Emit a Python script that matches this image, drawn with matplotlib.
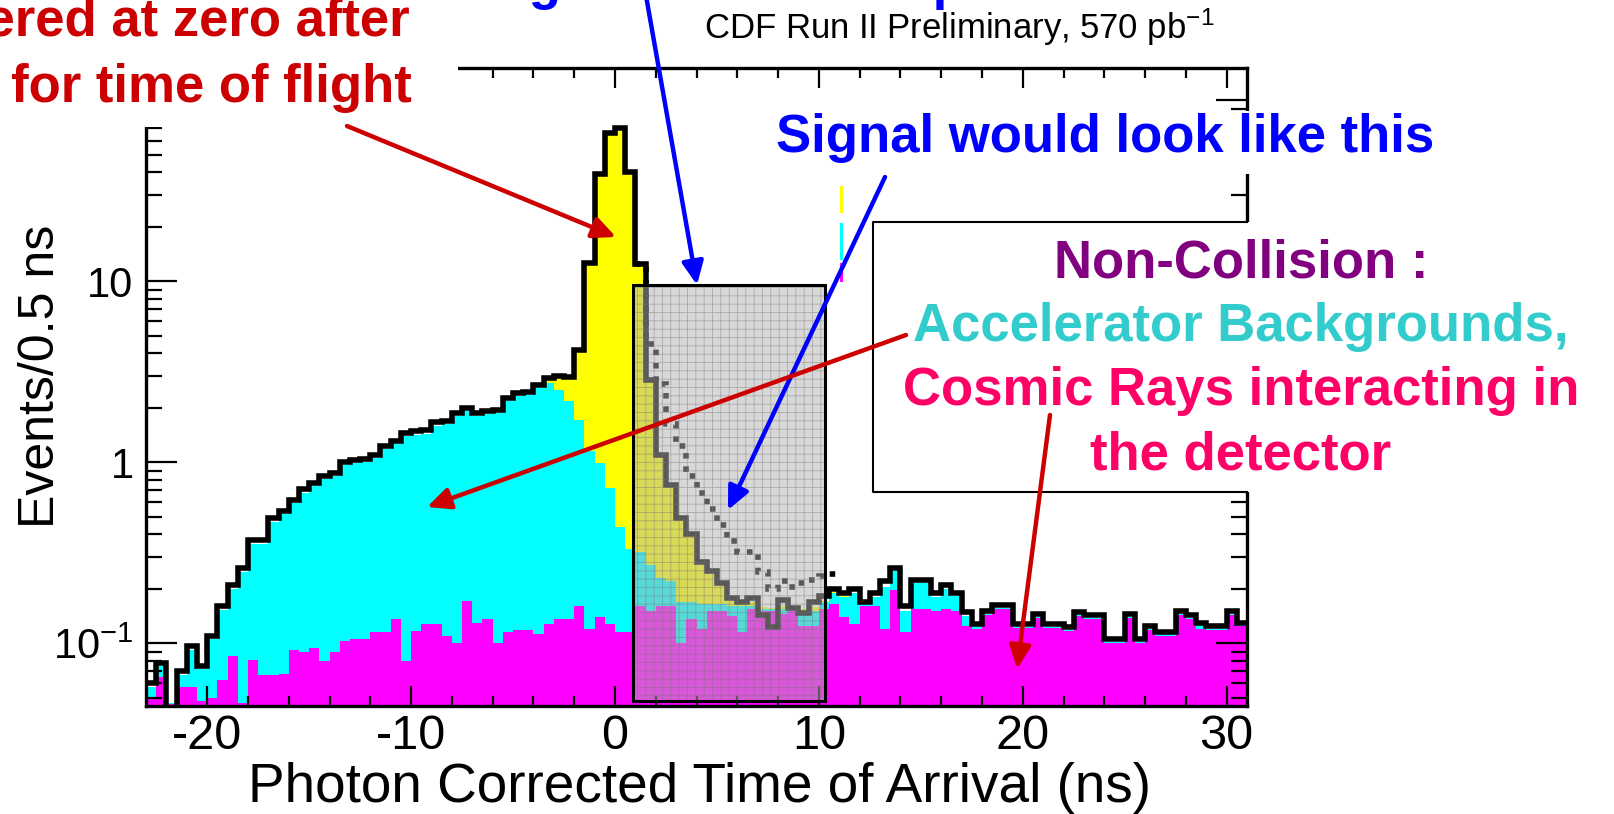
import numpy as np
import matplotlib
matplotlib.use("Agg")
import matplotlib.pyplot as plt
from matplotlib.patches import Rectangle, FancyArrowPatch
from matplotlib.lines import Line2D
from matplotlib.ticker import MultipleLocator, LogLocator, NullFormatter

plt.rcParams['font.family'] = ['Liberation Sans', 'DejaVu Sans']
plt.rcParams['mathtext.fontset'] = 'custom'
plt.rcParams['mathtext.rm'] = 'Liberation Sans'
plt.rcParams['mathtext.it'] = 'Liberation Sans:italic'
plt.rcParams['mathtext.bf'] = 'Liberation Sans:bold'
plt.rcParams['hatch.linewidth'] = 0.6

# photon timing, 0.5 ns bins from -23 ns to 31 ns
bin_edges = np.arange(-23.0, 31.01, 0.5)

data_events = [
    0.060, 0.078, 0.040, 0.070, 0.096, 0.075, 0.110, 0.160, 0.210, 0.260,
    0.370, 0.370, 0.490, 0.540, 0.620, 0.710, 0.770, 0.840, 0.870, 1.01,
    1.03, 1.04, 1.10, 1.23, 1.31, 1.45, 1.48, 1.50, 1.66, 1.70,
    1.88, 2.00, 1.88, 1.92, 1.95, 2.27, 2.42, 2.45, 2.69, 2.93,
    3.00, 2.95, 4.20, 12.7, 39.0, 66.0, 70.0, 40.0, 12.5, 2.86,
    1.10, 0.75, 0.49, 0.40, 0.28, 0.25, 0.216, 0.178, 0.170, 0.178,
    0.144, 0.123, 0.174, 0.157, 0.147, 0.168, 0.182, 0.200, 0.190, 0.200,
    0.170, 0.190, 0.220, 0.260, 0.160, 0.225, 0.225, 0.190, 0.210, 0.190,
    0.148, 0.127, 0.150, 0.163, 0.163, 0.127, 0.127, 0.145, 0.127, 0.127,
    0.123, 0.148, 0.143, 0.143, 0.105, 0.105, 0.145, 0.105, 0.124, 0.115,
    0.115, 0.150, 0.143, 0.130, 0.124, 0.124, 0.150, 0.130,
]

# stacked levels: cosmics, + accelerator halo, + collisions
stack_cosmic = [
    0.050, 0.065, 0.046, 0.057, 0.057, 0.048, 0.050, 0.063, 0.085, 0.047,
    0.081, 0.067, 0.067, 0.068, 0.092, 0.089, 0.094, 0.080, 0.089, 0.103,
    0.106, 0.106, 0.116, 0.116, 0.137, 0.080, 0.117, 0.127, 0.127, 0.110,
    0.100, 0.171, 0.130, 0.137, 0.100, 0.116, 0.118, 0.118, 0.112, 0.127,
    0.137, 0.137, 0.160, 0.120, 0.140, 0.127, 0.115, 0.115, 0.160, 0.150,
    0.160, 0.160, 0.100, 0.137, 0.120, 0.150, 0.150, 0.141, 0.116, 0.155,
    0.150, 0.150, 0.145, 0.150, 0.124, 0.124, 0.155, 0.164, 0.140, 0.127,
    0.160, 0.160, 0.120, 0.197, 0.115, 0.155, 0.155, 0.150, 0.155, 0.150,
    0.125, 0.120, 0.143, 0.155, 0.155, 0.121, 0.121, 0.138, 0.121, 0.121,
    0.117, 0.141, 0.136, 0.136, 0.100, 0.100, 0.138, 0.100, 0.118, 0.110,
    0.110, 0.143, 0.136, 0.120, 0.118, 0.118, 0.143, 0.124,
]

stack_halo = [
    0.057, 0.075, 0.047, 0.067, 0.092, 0.072, 0.105, 0.152, 0.200, 0.248,
    0.355, 0.355, 0.470, 0.520, 0.595, 0.680, 0.740, 0.805, 0.835, 0.970,
    0.990, 1.00, 1.06, 1.18, 1.26, 1.39, 1.42, 1.44, 1.59, 1.63,
    1.80, 1.92, 1.80, 1.84, 1.87, 2.18, 2.32, 2.35, 2.58, 2.76,
    2.52, 2.17, 1.72, 1.15, 0.99, 0.72, 0.44, 0.33, 0.32, 0.27,
    0.23, 0.22, 0.17, 0.17, 0.165, 0.165, 0.165, 0.160, 0.160, 0.160,
    0.155, 0.155, 0.155, 0.155, 0.150, 0.150, 0.170, 0.190, 0.180, 0.190,
    0.165, 0.180, 0.205, 0.250, 0.150, 0.215, 0.215, 0.180, 0.200, 0.182,
    0.142, 0.124, 0.145, 0.157, 0.157, 0.123, 0.123, 0.140, 0.123, 0.123,
    0.119, 0.143, 0.138, 0.138, 0.102, 0.102, 0.140, 0.102, 0.120, 0.112,
    0.112, 0.145, 0.138, 0.126, 0.120, 0.120, 0.145, 0.126,
]

stack_total = [
    0.057, 0.075, 0.047, 0.067, 0.092, 0.072, 0.105, 0.152, 0.200, 0.248,
    0.355, 0.355, 0.470, 0.520, 0.595, 0.680, 0.740, 0.805, 0.835, 0.970,
    0.990, 1.00, 1.06, 1.18, 1.26, 1.39, 1.42, 1.44, 1.59, 1.63,
    1.80, 1.92, 1.80, 1.84, 1.87, 2.18, 2.32, 2.35, 2.58, 2.85,
    2.92, 2.88, 4.10, 12.4, 38.0, 64.0, 68.0, 39.0, 12.2, 2.80,
    1.07, 0.73, 0.48, 0.39, 0.27, 0.24, 0.21, 0.172, 0.165, 0.170,
    0.158, 0.157, 0.160, 0.158, 0.155, 0.158, 0.172, 0.192, 0.182, 0.190,
    0.165, 0.180, 0.205, 0.250, 0.150, 0.215, 0.215, 0.180, 0.200, 0.182,
    0.142, 0.124, 0.145, 0.157, 0.157, 0.123, 0.123, 0.140, 0.123, 0.123,
    0.119, 0.143, 0.138, 0.138, 0.102, 0.102, 0.140, 0.102, 0.120, 0.112,
    0.112, 0.145, 0.138, 0.126, 0.120, 0.120, 0.145, 0.126,
]

# expected shape of a delayed-photon signal
signal_edges = np.arange(1.0, 11.01, 0.5)
signal_shape = [12.5, 4.5, 2.7, 1.62, 1.23, 0.84, 0.68, 0.555, 0.45, 0.366,
                0.32, 0.32, 0.247, 0.20, 0.22, 0.205, 0.216, 0.225, 0.235, 0.24]

# signal window (ns) and its vertical span
window_t = (0.9, 10.3)
window_y = (0.048, 9.5)

W, H = 1614, 814


def px(x, y):
    # pixel position measured from the top-left corner -> figure fraction
    return x / W, 1 - y / H


fig = plt.figure(figsize=(W / 100, H / 100), dpi=100)
ax = fig.add_axes([146 / W, 1 - 706 / H, 1101 / W, 638 / H])
ax.set_yscale('log')

ax.stairs(stack_total, bin_edges, baseline=1e-3, fill=True, color='#FFFF00', lw=0, zorder=1)
ax.stairs(stack_halo, bin_edges, baseline=1e-3, fill=True, color='#00FFFF', lw=0, zorder=1.1)
ax.stairs(stack_cosmic, bin_edges, baseline=1e-3, fill=True, color='#FF00FF', lw=0, zorder=1.2)
ax.stairs(signal_shape, signal_edges, baseline=None, color='black', lw=4,
          linestyle=(0, (1, 1.4)), zorder=2.1)
ax.stairs(data_events, bin_edges, baseline=None, color='black', lw=4, zorder=2.2)

# shaded signal window with fine grid
ax.add_patch(Rectangle((window_t[0], window_y[0]), window_t[1] - window_t[0],
                       window_y[1] - window_y[0], facecolor=(0.70, 0.70, 0.70, 0.5),
                       edgecolor=(0.45, 0.45, 0.45, 0.45), hatch='++', lw=0, zorder=3))
ax.add_patch(Rectangle((window_t[0], window_y[0]), window_t[1] - window_t[0],
                       window_y[1] - window_y[0], fill=False, edgecolor='black',
                       lw=2.2, zorder=3.1))

ax.set_xlim(-23, 31)
ax.set_ylim(0.045, 151)
ax.set_xticks([-20, -10, 0, 10, 20, 30], labels=['-20', '-10', '0', '10', '20', '30'])
ax.xaxis.set_minor_locator(MultipleLocator(2))
ax.set_yticks([0.1, 1, 10, 100], labels=['$10^{-1}$', '1', '10', ''])
ax.yaxis.set_minor_locator(LogLocator(10, subs=np.arange(2, 10)))
ax.yaxis.set_minor_formatter(NullFormatter())
ax.set_axisbelow(False)
ax.tick_params(axis='both', which='both', direction='in', top=True, right=True, width=1.6)
ax.tick_params(axis='x', which='major', length=14.5, labelsize=35, pad=6)
ax.tick_params(axis='x', which='minor', length=7.5)
ax.tick_params(axis='y', which='major', length=22, labelsize=30, pad=9)
ax.tick_params(axis='y', which='minor', length=11.5)
for s in ax.spines.values():
    s.set_linewidth(2.4)

# axis titles and run label
fig.text(*px(700, 802), 'Photon Corrected Time of Arrival (ns)', fontsize=39.5,
         ha='center', va='baseline')
fig.text(*px(41, 376), 'Events/0.5 ns', fontsize=36, rotation=90,
         ha='center', va='center')
fig.text(*px(959, 39), 'CDF Run II Preliminary, 570 pb$^{-1}$', fontsize=25,
         ha='center', va='baseline')

# white backgrounds behind the annotations
fig.add_artist(Rectangle(px(0, 127), 458 / W, 127 / H, transform=fig.transFigure,
                         facecolor='white', edgecolor='none', zorder=5))
fig.add_artist(Rectangle(px(770, 174), 670 / W, 63 / H, transform=fig.transFigure,
                         facecolor='white', edgecolor='none', zorder=5))
fig.add_artist(Rectangle(px(873, 492), (W - 873) / W, 270 / H, transform=fig.transFigure,
                         facecolor='white', edgecolor='none', zorder=5))
frame_x = [1247, 873, 873, 1247]
frame_y = [222, 222, 492, 492]
fig.add_artist(Line2D([px(x, y)[0] for x, y in zip(frame_x, frame_y)],
                      [px(x, y)[1] for x, y in zip(frame_x, frame_y)],
                      transform=fig.transFigure, color='black', lw=1.5, zorder=6))

# edges of the colour key that sit behind the label box
for top, bot, col in [(186, 213, '#FFFF00'), (223, 260, '#00FFFF'), (263, 282, '#FF00FF')]:
    fig.add_artist(Rectangle(px(840, bot), 2.5 / W, (bot - top) / H, transform=fig.transFigure,
                             facecolor=col, edgecolor='none', zorder=6))

bold = dict(fontsize=38, fontweight='bold', zorder=8)
fig.text(*px(410, 36), 'Collision photons centered at zero after', color='#CC0000',
         ha='right', va='baseline', **bold)
fig.text(*px(412, 102), 'correcting for time of flight', color='#CC0000',
         ha='right', va='baseline', **bold)
fig.text(*px(479, -1), 'Signal box was kept blind', color='#0000FF',
         ha='left', va='baseline', **bold)
fig.text(*px(1105, 152), 'Signal would look like this', color='#0000FF',
         ha='center', va='baseline', **bold)
fig.text(*px(1241, 278), 'Non-Collision :', color='#800080', ha='center', va='baseline', **bold)
fig.text(*px(1241, 341), 'Accelerator Backgrounds,', color='#33CCCC', ha='center', va='baseline', **bold)
fig.text(*px(1241, 405), 'Cosmic Rays interacting in', color='#FF0066', ha='center', va='baseline', **bold)
fig.text(*px(1241, 470), 'the detector', color='#FF0066', ha='center', va='baseline', **bold)

# arrows from the labels to the features
arrows = [
    ((347, 126), (616, 237), '#CC0000'),
    ((645, -10), (697, 285), '#0000FF'),
    ((885, 177), (728, 510), '#0000FF'),
    ((906, 335), (427, 507), '#CC0000'),
    ((1050, 415), (1017, 669), '#CC0000'),
]
for a, b, col in arrows:
    fig.add_artist(FancyArrowPatch(px(*a), px(*b), transform=fig.transFigure,
                                   arrowstyle='-|>,head_length=1.4,head_width=0.65',
                                   mutation_scale=10, lw=3.2, color=col,
                                   shrinkA=0, shrinkB=0, zorder=20))

fig.savefig('out.png', dpi=100)
